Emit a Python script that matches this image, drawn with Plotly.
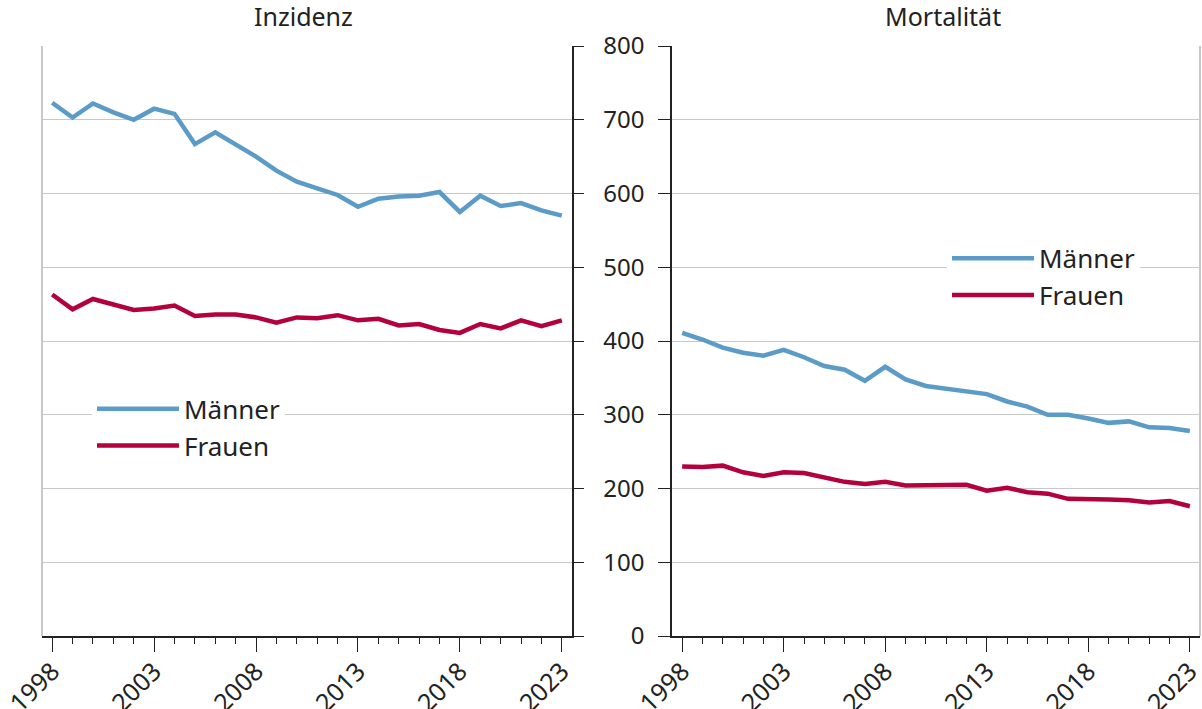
import plotly.graph_objects as go

years = list(range(1998, 2024))

inz_maenner = [723, 703, 722, 710, 700, 715, 708, 667, 683, 667, 650, 631, 616, 607, 598, 582,
               593, 596, 597, 602, 575, 597, 583, 587, 577, 570]
inz_frauen = [463, 443, 457, 449, 442, 444, 448, 434, 436, 436, 432, 425, 432, 431, 435, 428,
              430, 421, 423, 415, 411, 423, 417, 428, 420, 428]
mort_maenner = [411, 402, 391, 384, 380, 388, 378, 366, 361, 346, 365, 348, 339, 335, 331, 328,
                318, 311, 300, 300, 295, 289, 291, 283, 282, 278]
mort_frauen = [230, 229, 231, 222, 217, 222, 221, 215, 209, 206, 209, 204, 204, 204, 205, 197,
               201, 195, 193, 186, 186, 185, 184, 181, 183, 176]

panel_titles = ["Inzidenz", "Mortalität"]
series_names = ["Männer", "Frauen"]
y_ticks = [0, 100, 200, 300, 400, 500, 600, 700, 800]
x_ticks = [1998, 2003, 2008, 2013, 2018, 2023]

BLUE = "#5b9bc7"
RED = "#b3003e"
FONT = "Noto Sans"
TXT = "#222222"
GRID = "#c8c8c8"

fig = go.Figure()

for name, vals, col, grp in [(series_names[0], inz_maenner, BLUE, "a"), (series_names[1], inz_frauen, RED, "b")]:
    fig.add_trace(go.Scatter(x=years, y=vals, mode="lines", name=name, legendgroup=grp,
                             line=dict(color=col, width=4.5), xaxis="x", yaxis="y", legend="legend"))
for name, vals, col, grp in [(series_names[0], mort_maenner, BLUE, "c"), (series_names[1], mort_frauen, RED, "d")]:
    fig.add_trace(go.Scatter(x=years, y=vals, mode="lines", name=name, legendgroup=grp,
                             line=dict(color=col, width=4.5), xaxis="x2", yaxis="y2", legend="legend2"))

xcommon = dict(range=[1997.5, 2023.5], tickmode="array", tickvals=x_ticks, ticktext=[str(v) for v in x_ticks],
               tickangle=-45, ticks="outside", ticklen=14, tickwidth=1.3, tickcolor="#222",
               showline=True, linecolor="#222", linewidth=1.5, showgrid=False, zeroline=False, automargin=False,
               ticklabeloverflow="allow", ticklabelstandoff=-5,
               tickfont=dict(family=FONT, size=25, color=TXT),
               minor=dict(dtick=1, tick0=1998, ticks="outside", ticklen=6, tickwidth=1.3, tickcolor="#222", showgrid=False))
ycommon = dict(range=[0, 800], tickvals=y_ticks, ticks="outside", tickwidth=1.3, tickcolor="#222",
               showline=True, linecolor="#222", linewidth=1.5, showgrid=True, gridcolor=GRID, gridwidth=1.3,
               zeroline=False, automargin=False, tickfont=dict(family=FONT, size=24, color=TXT))

fig.update_layout(
    width=1202, height=709,
    margin=dict(l=0, r=0, t=46, b=73, autoexpand=False),
    paper_bgcolor="white", plot_bgcolor="white",
    xaxis=dict(domain=[42/1202, 572/1202], anchor="y", **xcommon),
    yaxis=dict(domain=[0, 1], anchor="x", side="right", showticklabels=False, ticklen=10, **ycommon),
    xaxis2=dict(domain=[672/1202, 1200/1202], anchor="y2", **xcommon),
    yaxis2=dict(domain=[0, 1], anchor="x2", side="left", ticklen=12, ticklabelstandoff=9, **ycommon),
    legend=dict(x=92/1202, y=0.425, xanchor="left", yanchor="top", bgcolor="white",
                font=dict(family=FONT, size=26, color=TXT), tracegroupgap=0, itemwidth=82),
    legend2=dict(x=947/1202, y=0.68, xanchor="left", yanchor="top", bgcolor="white",
                 font=dict(family=FONT, size=26, color=TXT), tracegroupgap=0, itemwidth=82),
    showlegend=True,
    annotations=[
        dict(text=panel_titles[0], x=0.5, xref="x domain", y=1, yref="paper", yanchor="bottom", yshift=11, xshift=-4,
             showarrow=False, font=dict(family=FONT, size=25, color=TXT)),
        dict(text=panel_titles[1], x=0.5, xref="x2 domain", y=1, yref="paper", yanchor="bottom", yshift=11, xshift=7,
             showarrow=False, font=dict(family=FONT, size=25, color=TXT)),
    ],
    shapes=[
        dict(type="line", xref="x domain", yref="y domain", x0=0, x1=0, y0=0, y1=1,
             line=dict(color=GRID, width=2), layer="below"),
        dict(type="line", xref="x2 domain", yref="y2 domain", x0=1, x1=1, y0=0, y1=1,
             line=dict(color=GRID, width=2), layer="below"),
    ],
)

fig.write_html("out.html", config={"displayModeBar": False},
               post_script="document.body.style.margin='0';document.body.style.overflow='hidden';")
